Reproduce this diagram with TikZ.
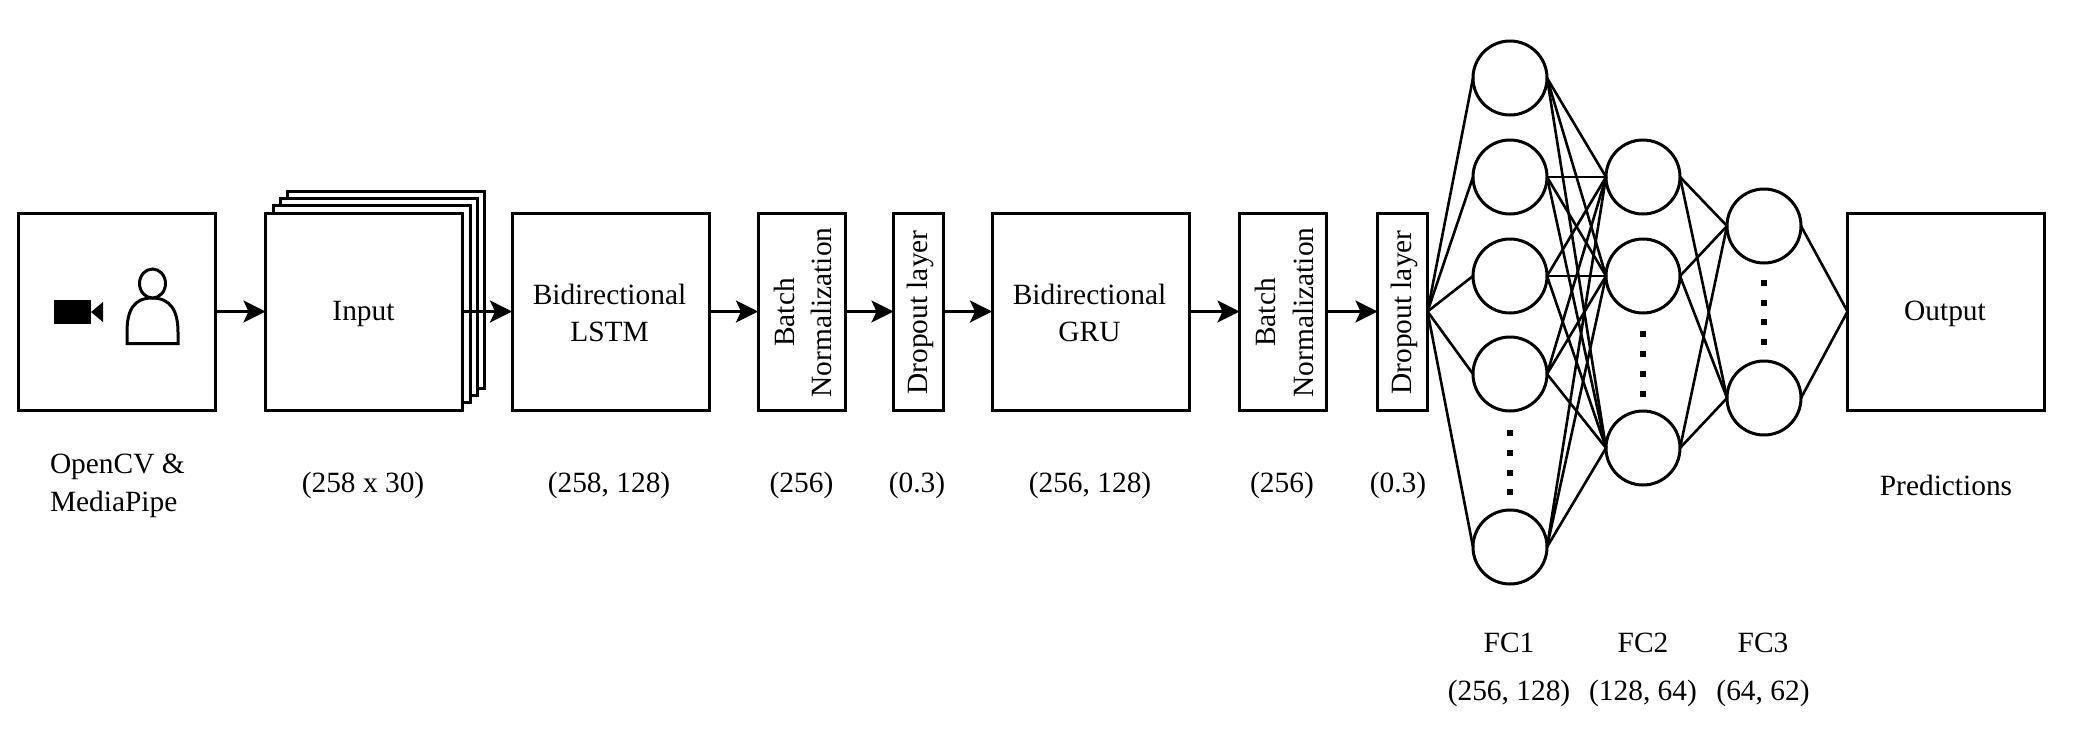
\documentclass[tikz,border=0pt]{standalone}
\usepackage{fontspec}
\setmainfont{Liberation Serif}
\usetikzlibrary{arrows.meta}
\tikzset{
  every node/.style={font=\fontsize{29.4}{37.5}\selectfont, outer sep=0pt, inner sep=0pt},
  ln/.style={line width=3pt, draw=black},
  blockbox/.style={ln, fill=white, minimum height=197pt},
  bigbox/.style={blockbox, minimum width=197pt},
  stackbox/.style={ln, fill=white, minimum width=197pt, minimum height=197pt},
  batchbox/.style={blockbox, minimum width=87pt},
  dropbox/.style={blockbox, minimum width=50pt},
  neuron/.style={ln, circle, fill=white, minimum size=74pt},
  flow/.style={ln, -{Stealth[length=22pt,width=22pt,inset=5pt]}},
  link/.style={line width=2.6pt, draw=black},
  vtext/.style={rotate=90, align=center},
  captext/.style={align=center},
  dotmark/.style={fill=black, minimum size=5.5pt}
}
\begin{document}
\begin{tikzpicture}[x=1pt,y=-1pt]
\useasboundingbox (0,0) rectangle (2074,739);
\fill[white] (0,0) rectangle (2074,739);
% blocks
\node[bigbox] (cam) at (117,311.5) {};
\node[stackbox] (s3) at (385.5,290) {};
\node[stackbox] (s2) at (378.5,297) {};
\node[stackbox] (s1) at (371.5,304) {};
\node[bigbox] (input) at (364,311.5) {};
\node[captext] (inputt) at (363.5,313.5) {Input};
\node[bigbox] (lstm) at (610.5,311.5) {};
\node[captext] (lstmt) at (609.5,313) {Bidirectional\\LSTM};
\node[batchbox] (bn1) at (801.5,311.5) {};
\node[vtext] (bn1t) at (803,312.5) {Batch\\Normalization};
\node[dropbox] (do1) at (918.5,311.5) {};
\node[vtext] (do1t) at (920.5,312.5) {Dropout layer};
\node[bigbox] (gru) at (1090.5,311.5) {};
\node[captext] (grut) at (1089.5,313) {Bidirectional\\GRU};
\node[batchbox] (bn2) at (1283,311.5) {};
\node[vtext] (bn2t) at (1284.5,312.5) {Batch\\Normalization};
\node[dropbox] (do2) at (1402.5,311.5) {};
\node[vtext] (do2t) at (1404.5,312.5) {Dropout layer};
\node[bigbox] (out) at (1946,311.5) {};
\node[captext] (outt) at (1945,313.5) {Output};
% neurons
\node[neuron] (a1) at (1510,78) {};
\node[neuron] (a2) at (1510,177) {};
\node[neuron] (a3) at (1510,276) {};
\node[neuron] (a4) at (1510,374) {};
\node[neuron] (a5) at (1510,547) {};
\node[neuron] (b1) at (1643,177) {};
\node[neuron] (b2) at (1643,276) {};
\node[neuron] (b3) at (1643,448) {};
\node[neuron] (c1) at (1764,226) {};
\node[neuron] (c2) at (1764,398) {};
% ellipsis dots
\foreach \y [count=\i] in {433,453,473,492} \node[dotmark] (da\i) at (1510,\y) {};
\foreach \y [count=\i] in {334,354,374,394} \node[dotmark] (db\i) at (1643,\y) {};
\foreach \y [count=\i] in {283,303,322,342} \node[dotmark] (dc\i) at (1764,\y) {};
% connectors
\draw[flow] (cam) -- (input);
\draw[flow] (input) -- (lstm);
\draw[flow] (lstm) -- (bn1);
\draw[flow] (bn1) -- (do1);
\draw[flow] (do1) -- (gru);
\draw[flow] (gru) -- (bn2);
\draw[flow] (bn2) -- (do2);
\foreach \a in {a1,a2,a3,a4,a5} {
  \draw[link] (do2.east) -- (\a.west);
  \foreach \b in {b1,b2,b3} \draw[link] (\a.east) -- (\b.west);
}
\foreach \b in {b1,b2,b3} \foreach \c in {c1,c2} \draw[link] (\b.east) -- (\c.west);
\foreach \c in {c1,c2} \draw[link] (\c.east) -- (out.west);
% camera icon
\fill[black] (54,300) rectangle (91,324);
\fill[black] (91,312) -- (103,302) -- (103,322) -- cycle;
% person icon
\draw[ln] (127,343.5) -- (127,332) .. controls (127,310) and (134,298) .. (152,298)
  .. controls (170,298) and (178,310) .. (178,332) -- (178,343.5) -- cycle;
\draw[ln, fill=white] (152.5,283.5) ellipse (13pt and 14.5pt);
% captions
\node[captext, align=left, anchor=west] (c-cam) at (50,486) {OpenCV \&\\MediaPipe};
\node[captext] (c-in) at (363,485.5) {(258 x 30)};
\node[captext] (c-lstm) at (609,485.5) {(258, 128)};
\node[captext] (c-bn1) at (801.5,485.5) {(256)};
\node[captext] (c-do1) at (917,485.5) {(0.3)};
\node[captext] (c-gru) at (1090,485.5) {(256, 128)};
\node[captext] (c-bn2) at (1282,485.5) {(256)};
\node[captext] (c-do2) at (1398,485.5) {(0.3)};
\node[captext] (c-out) at (1946,485) {Predictions};
\node[captext] (f1) at (1509,643) {FC1};
\node[captext] (f2) at (1643,643) {FC2};
\node[captext] (f3) at (1763,643) {FC3};
\node[captext] (g1) at (1509,693) {(256, 128)};
\node[captext] (g2) at (1643,693) {(128, 64)};
\node[captext] (g3) at (1763,693) {(64, 62)};
\end{tikzpicture}
\end{document}
